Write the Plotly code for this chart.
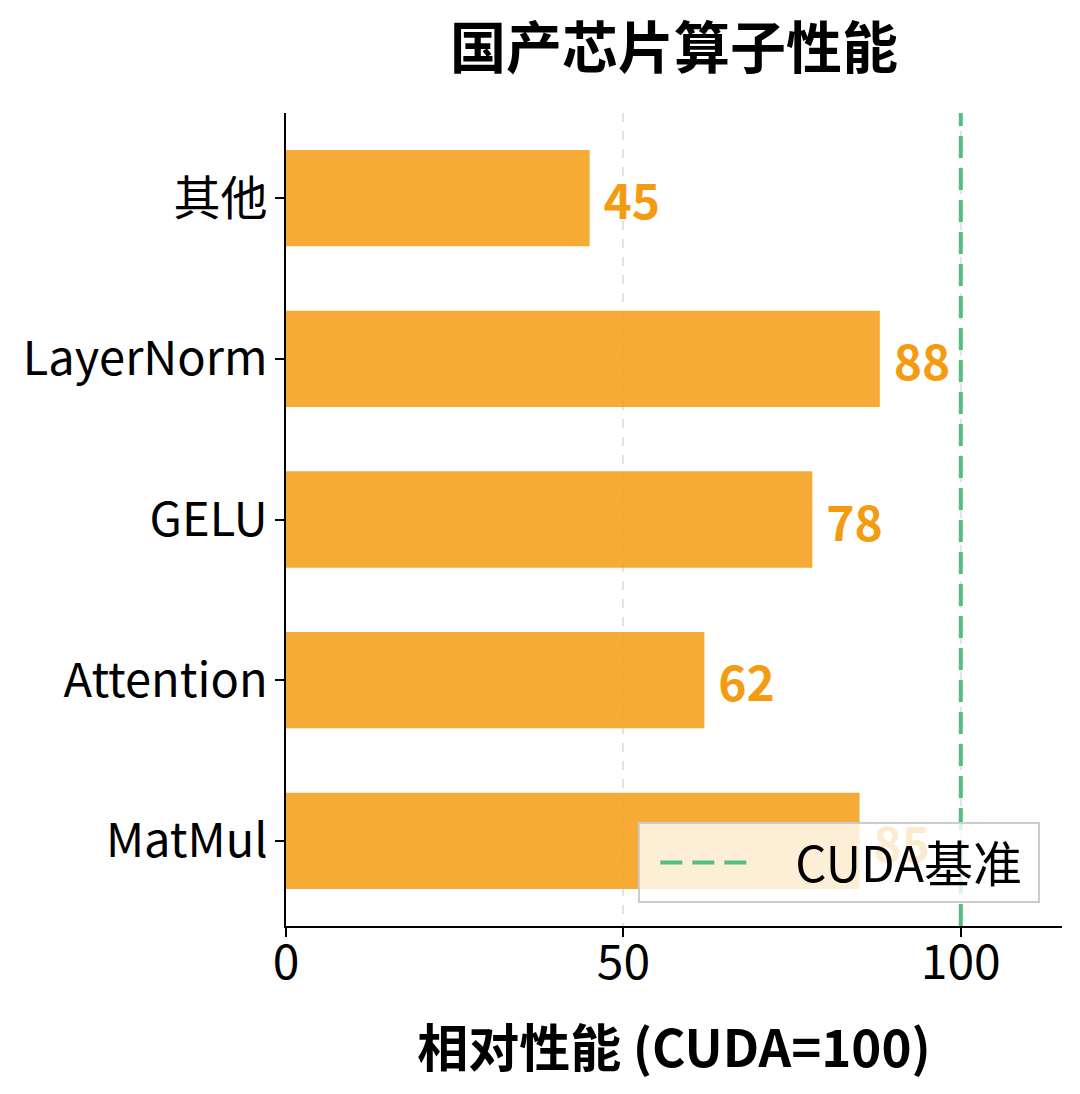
import plotly.graph_objects as go

categories = ["MatMul", "Attention", "GELU", "LayerNorm", "其他"]
values = [85, 62, 78, 88, 45]
baseline = 100
baseline_name = "CUDA基准"
title_text = "国产芯片算子性能"
xlabel_text = "相对性能 (CUDA=100)"
xticks = [0, 50, 100]

FONT = "Noto Sans CJK SC"
bar_color = "rgba(243,156,18,0.85)"
text_color = "#F39C12"
green = "#52BE80"

fig = go.Figure()
fig.add_trace(go.Bar(
    y=categories, x=values, orientation="h", width=0.6,
    marker=dict(color=bar_color, line=dict(width=0)),
    text=["\u00a0" + str(v) for v in values],
    textposition="outside",
    textfont=dict(family=FONT, size=48, color=text_color, weight="bold"),
    cliponaxis=False, showlegend=False, hoverinfo="skip",
))

fig.add_shape(type="line", xref="x", yref="paper", x0=baseline, x1=baseline, y0=0, y1=1,
              line=dict(color=green, width=4, dash="22px,10px"), layer="above",
              showlegend=True, name="\u00a0" * 4 + baseline_name + "\u00a0")

fig.update_layout(
    width=1080, height=1094,
    margin=dict(l=286, r=18, t=113, b=168),
    plot_bgcolor="white", paper_bgcolor="white",
    font=dict(family=FONT, color="black"),
    title=dict(text="<b>" + title_text + "</b>", x=0.5, xref="paper", xanchor="center",
               y=(1094 - 48) / 1094, yref="container", yanchor="middle",
               font=dict(family=FONT, size=56, color="black")),
    xaxis=dict(range=[0, 115], tickvals=xticks, ticktext=[str(t) for t in xticks],
               showline=True, linecolor="black", linewidth=2, ticks="outside", ticklen=9,
               tickwidth=2, tickcolor="black", tickfont=dict(family=FONT, size=48, color="black"),
               showgrid=True, gridcolor="rgba(200,200,200,0.5)", griddash="dash", gridwidth=1.5,
               zeroline=False, ticklabelstandoff=-16,
               title=dict(text="<b>" + xlabel_text + "</b>", standoff=40,
                          font=dict(family=FONT, size=51, color="black"))),
    yaxis=dict(range=[-0.53, 4.53], showline=True, linecolor="black", linewidth=2,
               ticks="outside", ticklen=9, tickwidth=2, tickcolor="black",
               tickfont=dict(family=FONT, size=47, color="black"), showgrid=False,
               zeroline=False, ticklabelstandoff=-2),
    legend=dict(x=0.972, y=0.028, xanchor="right", yanchor="bottom",
                bgcolor="rgba(255,255,255,0.8)", bordercolor="#cccccc", borderwidth=2,
                itemwidth=86, indentation=15,
                font=dict(family=FONT, size=49, color="black")),
    bargap=0.4,
)

fig.write_html("out.html", config={"displayModeBar": False},
               post_script="document.body.style.margin='0px';")
